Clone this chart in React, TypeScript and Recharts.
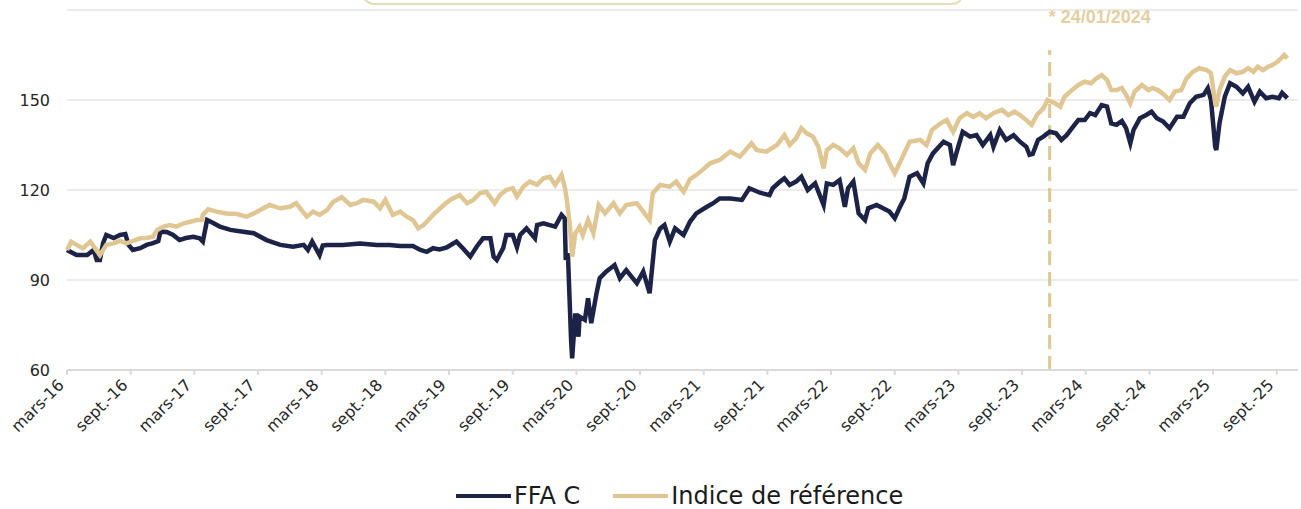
import React from 'react'
import {
  LineChart,
  Line,
  XAxis,
  YAxis,
  CartesianGrid,
  Legend,
  ReferenceLine,
} from 'recharts'

// x = mois écoulés depuis mars 2016
const tickMonths = [0, 6, 12, 18, 24, 30, 36, 42, 48, 54, 60, 66, 72, 78, 84, 90, 96, 102, 108, 114]
const tickLabels = [
  'mars-16', 'sept.-16', 'mars-17', 'sept.-17', 'mars-18', 'sept.-18', 'mars-19', 'sept.-19',
  'mars-20', 'sept.-20', 'mars-21', 'sept.-21', 'mars-22', 'sept.-22', 'mars-23', 'sept.-23',
  'mars-24', 'sept.-24', 'mars-25', 'sept.-25',
]
const yTicks = [60, 90, 120, 150]

const ffaMonths = [
  0, 0.9, 1.9, 2.5, 2.8, 3.1, 3.4, 3.7, 4.4, 5.0, 5.5, 5.8, 6.2, 6.9, 7.5, 8.1, 8.6, 8.8, 9.4, 10.0,
  10.6, 11.2, 11.9, 12.5, 12.8, 13.2, 13.5, 14.4, 15.4, 16.6, 17.6, 18.8, 20.1, 21.3, 22.3, 22.7, 23.1, 23.8, 24.1, 24.5,
  26.0, 27.6, 29.2, 30.4, 31.4, 32.6, 33.3, 33.9, 34.5, 35.1, 35.8, 36.7, 37.3, 38.0, 38.6, 39.2, 39.9, 40.2, 40.5, 41.1,
  41.4, 42.0, 42.4, 42.7, 43.3, 44.1, 44.3, 44.9, 45.5, 46.0, 46.6, 46.9, 47.0, 47.2, 47.5, 47.6, 47.7, 47.9, 48.2, 48.3,
  48.8, 49.1, 49.4, 49.9, 50.2, 50.8, 51.6, 52.1, 52.7, 53.7, 54.3, 54.9, 55.4, 55.9, 56.3, 56.8, 57.3, 58.1, 58.7, 59.3,
  60.3, 60.9, 61.5, 62.5, 63.6, 64.3, 65.3, 66.2, 66.5, 67.2, 67.6, 68.1, 68.7, 69.2, 69.8, 70.5, 71.3, 71.6, 72.2, 72.8,
  73.3, 73.6, 74.1, 74.6, 75.2, 75.5, 76.3, 76.9, 77.5, 78.0, 78.5, 78.9, 79.4, 80.1, 80.7, 81.1, 81.6, 82.6, 83.2, 83.5,
  83.8, 84.4, 85.1, 85.7, 86.3, 87.0, 87.3, 87.9, 88.5, 89.2, 89.8, 90.4, 90.7, 91.0, 91.5, 92.0, 92.6, 93.2, 93.7, 94.2,
  94.7, 95.3, 95.9, 96.4, 96.9, 97.5, 98.0, 98.4, 98.9, 99.4, 99.8, 100.2, 100.5, 101.1, 101.7, 102.2, 102.7, 103.3, 103.9, 104.6,
  105.2, 105.8, 106.4, 107.1, 107.5, 107.8, 108.2, 108.3, 108.6, 109.1, 109.6, 110.2, 110.8, 111.3, 111.9, 112.4, 113.0, 113.6, 114.2, 114.5,
  115.0,
]
const ffaValues = [
  100, 98.3, 98.3, 100, 96.7, 96.7, 102.3, 105, 104, 105, 105.3, 101.7, 100, 100.6, 101.7, 102.3, 103, 106.1, 106, 105,
  103.3, 104, 104.4, 103.9, 102.8, 110, 109.5, 107.8, 106.7, 106.1, 105.6, 103.3, 101.7, 101.1, 101.7, 100, 102.8, 98.3, 101.5, 101.7,
  101.7, 102.2, 101.7, 101.7, 101.3, 101.3, 100, 99.4, 100.6, 100.2, 100.9, 102.8, 100.6, 97.8, 101.1, 103.9, 103.9, 97.8, 96.7, 100.6,
  105, 105, 100.9, 105, 107.2, 103.9, 108.3, 108.9, 108.3, 107.8, 111.7, 110.5, 96.7, 98.9, 70, 63.9, 68.9, 78.9, 71.1, 77.8,
  76.7, 83.9, 75.6, 85.6, 90.6, 92.8, 95, 90.6, 93.3, 88.9, 92.8, 85.6, 103.3, 107.2, 108.3, 102.8, 107.2, 105, 109.4, 112.2,
  114.4, 115.6, 117.2, 117.2, 116.7, 120.6, 119.1, 118.3, 120.6, 122.8, 123.9, 121.7, 122.8, 124.4, 120, 122.2, 115, 122.2, 121.7, 123.3,
  114.4, 120.6, 122.8, 112.2, 110, 113.9, 115, 113.9, 112.8, 110.6, 114.4, 117.2, 124.4, 125.6, 122.2, 128.9, 132.2, 136.1, 135, 128.3,
  132.2, 139.4, 137.8, 138.3, 135, 138.3, 134.4, 140, 136.7, 138.3, 136.1, 134.4, 131.7, 132, 136.7, 137.8, 139.4, 138.9, 136.7, 138.3,
  140.6, 143.3, 143.3, 145.6, 145, 148.3, 147.8, 142.2, 141.7, 143, 140.6, 135.6, 140, 143.9, 145, 146.1, 143.9, 142.8, 140.6, 144.4,
  144.4, 148.9, 151.1, 151.7, 153.9, 150, 134.4, 133.3, 142.2, 151.1, 155.6, 154.4, 152.2, 154.4, 149.4, 152.8, 150.6, 151.1, 150.6, 152.4,
  150.6,
]

const refMonths = [
  0, 0.4, 0.9, 1.5, 2.2, 3.1, 3.7, 4.4, 5.0, 5.6, 6.2, 6.9, 7.5, 8.1, 8.5, 9.1, 9.7, 10.3, 11.0, 11.6,
  12.2, 12.7, 12.8, 13.3, 14.1, 15.0, 16.0, 16.9, 17.6, 18.2, 19.1, 20.1, 21.0, 21.6, 22.1, 22.6, 23.2, 23.8, 24.5, 25.1,
  25.9, 26.7, 27.3, 27.9, 28.9, 29.5, 30.0, 30.7, 31.4, 32.0, 32.6, 33.1, 33.6, 34.5, 35.5, 36.1, 37.0, 37.7, 38.3, 38.9,
  39.5, 40.3, 40.8, 41.4, 42.0, 42.4, 43.0, 43.6, 44.3, 44.9, 45.5, 46.0, 46.6, 46.9, 47.1, 47.4, 47.6, 47.9, 48.3, 48.6,
  49.1, 49.6, 50.1, 50.7, 51.5, 52.1, 52.7, 53.7, 54.3, 54.9, 55.2, 55.9, 56.8, 57.4, 58.1, 58.7, 59.3, 59.9, 60.6, 61.5,
  62.5, 63.4, 64.5, 65.0, 65.9, 66.9, 67.6, 68.1, 68.7, 69.2, 69.7, 70.3, 70.8, 71.3, 71.6, 72.2, 72.8, 73.5, 74.1, 74.6,
  75.2, 75.7, 76.4, 77.1, 77.5, 78.0, 78.6, 79.4, 80.4, 81.0, 81.5, 82.3, 82.9, 83.5, 84.1, 84.8, 85.4, 86.0, 86.6, 87.3,
  88.1, 88.7, 89.3, 89.8, 90.4, 90.9, 91.4, 92.0, 92.4, 93.1, 93.6, 94.0, 94.7, 95.3, 95.9, 96.5, 97.0, 97.5, 98.0, 98.4,
  98.9, 99.4, 99.8, 100.2, 100.6, 101.3, 101.9, 102.3, 102.8, 103.4, 103.9, 104.4, 105.0, 105.5, 106.1, 106.7, 107.4, 107.8, 108.2, 108.3,
  108.6, 109.1, 109.6, 110.2, 110.8, 111.3, 111.8, 112.2, 112.7, 113.2, 113.6, 114.1, 114.7, 115.0,
]
const refValues = [
  100, 102.8, 101.7, 100.6, 102.8, 98.3, 101.7, 102.2, 103, 102.2, 103, 103.9, 104, 104.4, 106.7, 107.8, 108.3, 107.8, 108.9, 109.4,
  110, 110, 111.7, 113.6, 112.8, 112.2, 112, 111.1, 112.2, 113.3, 115, 113.9, 114.4, 115.6, 113.3, 111.1, 112.8, 111.7, 113.3, 116.1,
  117.6, 115, 115.6, 116.7, 116.1, 113.9, 116.7, 111.7, 112.8, 111.1, 110, 107.2, 108.3, 111.7, 115, 116.7, 118.3, 115.6, 116.7, 118.9,
  119.4, 115.6, 118.3, 120, 120.6, 117.8, 121.1, 122.8, 121.7, 123.9, 124.4, 121.7, 125, 121.1, 116.7, 107.8, 97.8, 105.6, 107.8, 105,
  110, 105.6, 115, 112.2, 115.6, 112.2, 115, 115.6, 112.8, 110, 118.9, 121.7, 121.1, 122.8, 119.4, 123.6, 125, 126.7, 128.9, 130,
  132.8, 131.1, 135.6, 133.3, 132.8, 135, 138.3, 135, 137.2, 140.6, 138.9, 137.8, 134.4, 127.2, 133.3, 135, 133.9, 131.7, 133.9, 128.9,
  126.7, 132.2, 135, 132.2, 128.9, 125.6, 130, 136.1, 136.7, 135, 140, 142.2, 143.3, 139.4, 143.9, 145.6, 144.4, 145.6, 143.9, 145.6,
  146.7, 145, 146.1, 145, 143.3, 141.7, 145, 147.2, 150, 148.9, 147.8, 151.1, 153.3, 155, 156.1, 155.6, 157.2, 158.3, 156.7, 153.3,
  153.3, 154, 151.7, 148.9, 152.8, 155, 153.3, 154, 153.3, 151.7, 150, 152.8, 153.3, 157.2, 159.4, 160.6, 160, 158.9, 148.9, 147.8,
  153.3, 157.8, 160, 158.9, 159.4, 160.6, 159.4, 161.1, 160, 161.1, 161.7, 162.8, 165, 163.9,
]

const markerMonth = 92.6
const markerLabel = '* 24/01/2024'

const NAVY = '#1c2347'
const GOLD = '#dfc692'
const FONT = '"DejaVu Sans", sans-serif'

const ffaData = ffaMonths.map((t, i) => ({ t, v: ffaValues[i] }))
const refData = refMonths.map((t, i) => ({ t, v: refValues[i] }))

const XTick = (props: any) => {
  const { x, y, payload } = props
  const idx = tickMonths.indexOf(payload.value)
  const ax = x - 2
  const ay = y + 11
  return (
    <text
      x={ax}
      y={ay}
      transform={`rotate(-45 ${ax} ${ay})`}
      textAnchor="end"
      fontSize={16}
      fontFamily={FONT}
      fill="#262626"
    >
      {tickLabels[idx]}
    </text>
  )
}

const LegendContent = () => (
  <div
    style={{
      display: 'flex',
      alignItems: 'center',
      height: 40,
      paddingLeft: 456,
      fontFamily: FONT,
      fontSize: 24,
      color: '#1a1a1a',
    }}
  >
    <span style={{ width: 55, height: 4, background: NAVY, marginRight: 3 }} />
    <span>FFA C</span>
    <span style={{ width: 55, height: 4, background: GOLD, marginLeft: 33, marginRight: 3 }} />
    <span>Indice de référence</span>
  </div>
)

export default function App() {
  return (
    <div style={{ position: 'absolute', left: 0, top: 0, width: 1301, height: 509, background: '#fff', overflow: 'hidden' }}>
      <div
        style={{
          position: 'absolute',
          left: 362,
          top: -30,
          width: 598,
          height: 31,
          border: '2.5px solid #ecdcb9',
          borderRadius: 12,
        }}
      />
      <LineChart width={1301} height={509} margin={{ top: 10, right: 3, left: 0, bottom: 0 }}>
        <CartesianGrid vertical={false} stroke="#ececec" strokeWidth={2} />
        <XAxis
          type="number"
          dataKey="t"
          domain={[0, 116]}
          ticks={tickMonths}
          interval={0}
          height={99}
          tick={<XTick />}
          tickSize={5}
          tickMargin={0}
          axisLine={{ stroke: '#d9d9d9', strokeWidth: 2 }}
          tickLine={{ stroke: '#d9d9d9', strokeWidth: 2 }}
          allowDuplicatedCategory={false}
        />
        <YAxis
          type="number"
          domain={[60, 180]}
          ticks={yTicks}
          width={67}
          axisLine={false}
          tickLine={false}
          tickSize={0}
          tickMargin={17}
          tick={{ fontSize: 16, fontFamily: FONT, fill: '#262626' }}
        />
        <ReferenceLine
          segment={[
            { x: markerMonth, y: 60 },
            { x: markerMonth, y: 166.7 },
          ]}
          stroke={GOLD}
          strokeWidth={3}
          strokeDasharray="14 7"
          label={{
            content: (p: any) => (
              <text
                x={p.viewBox.x - 1}
                y={p.viewBox.y - 27}
                fontSize={18}
                fontWeight="bold"
                fontFamily='"Liberation Sans", Arial, sans-serif'
                fill="#e4cfa3"
              >
                {markerLabel}
              </text>
            ),
          }}
        />
        <Line data={ffaData} dataKey="v" name="FFA C" type="linear" stroke={NAVY} strokeWidth={4.5} dot={false} isAnimationActive={false} />
        <Line data={refData} dataKey="v" name="Indice de référence" type="linear" stroke={GOLD} strokeWidth={4.5} dot={false} isAnimationActive={false} />
        <Legend
          verticalAlign="bottom"
          height={40}
          content={<LegendContent />}
          wrapperStyle={{ left: 0, top: 476, width: 1301, height: 40 }}
        />
      </LineChart>
    </div>
  )
}
